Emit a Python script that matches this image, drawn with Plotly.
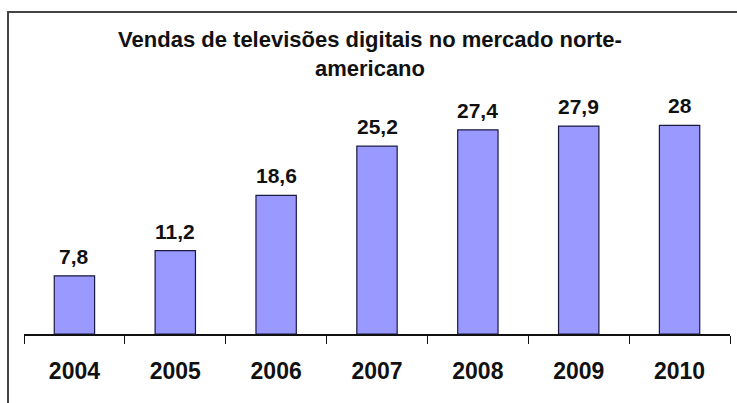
import plotly.graph_objects as go

anos = ["2004", "2005", "2006", "2007", "2008", "2009", "2010"]
vendas = [7.8, 11.2, 18.6, 25.2, 27.4, 27.9, 28]
titulo = "Vendas de televisões digitais no mercado norte-<br>americano"

FONT = "Liberation Sans, Arial, sans-serif"

def fmt(v):
    return f"{v:g}".replace(".", ",")

fig = go.Figure()
fig.add_trace(go.Bar(
    x=anos, y=vendas, width=0.4,
    marker=dict(color="#9999ff", line=dict(color="#1a1a40", width=1.2)),
    hoverinfo="x+y",
))

for i, v in enumerate(vendas):
    fig.add_annotation(x=i, y=v, text=fmt(v), showarrow=False,
                       yanchor="bottom", yshift=6,
                       font=dict(family=FONT, size=21, color="#111", weight="bold"))

fig.update_layout(
    width=737, height=403,
    margin=dict(l=24, r=7, t=100, b=69),
    paper_bgcolor="white", plot_bgcolor="white",
    showlegend=False,
    title=dict(text=titulo, x=0.502, xanchor="center", y=1 - 47 / 403, yanchor="top",
               font=dict(family=FONT, size=22, color="#111", weight="bold")),
    xaxis=dict(type="category", range=[-0.5, len(anos) - 0.5], showline=True,
               linecolor="#111", linewidth=1.5,
               ticks="outside", tickson="boundaries", ticklen=8, tickcolor="#111",
               tickwidth=1.2, showgrid=False, ticklabelstandoff=16, tickangle=0,
               tickfont=dict(family=FONT, size=23, color="#111", weight="bold")),
    yaxis=dict(range=[0, 31.4], visible=False, showgrid=False, fixedrange=True),
    shapes=[dict(type="rect", xref="paper", yref="paper",
                 x0=(8 - 24) / 706, x1=1.2, y0=-0.6, y1=(334 - 12) / 234,
                 line=dict(color="#444", width=2), fillcolor="rgba(0,0,0,0)", layer="below")],
)

fig.write_html("out.html")
